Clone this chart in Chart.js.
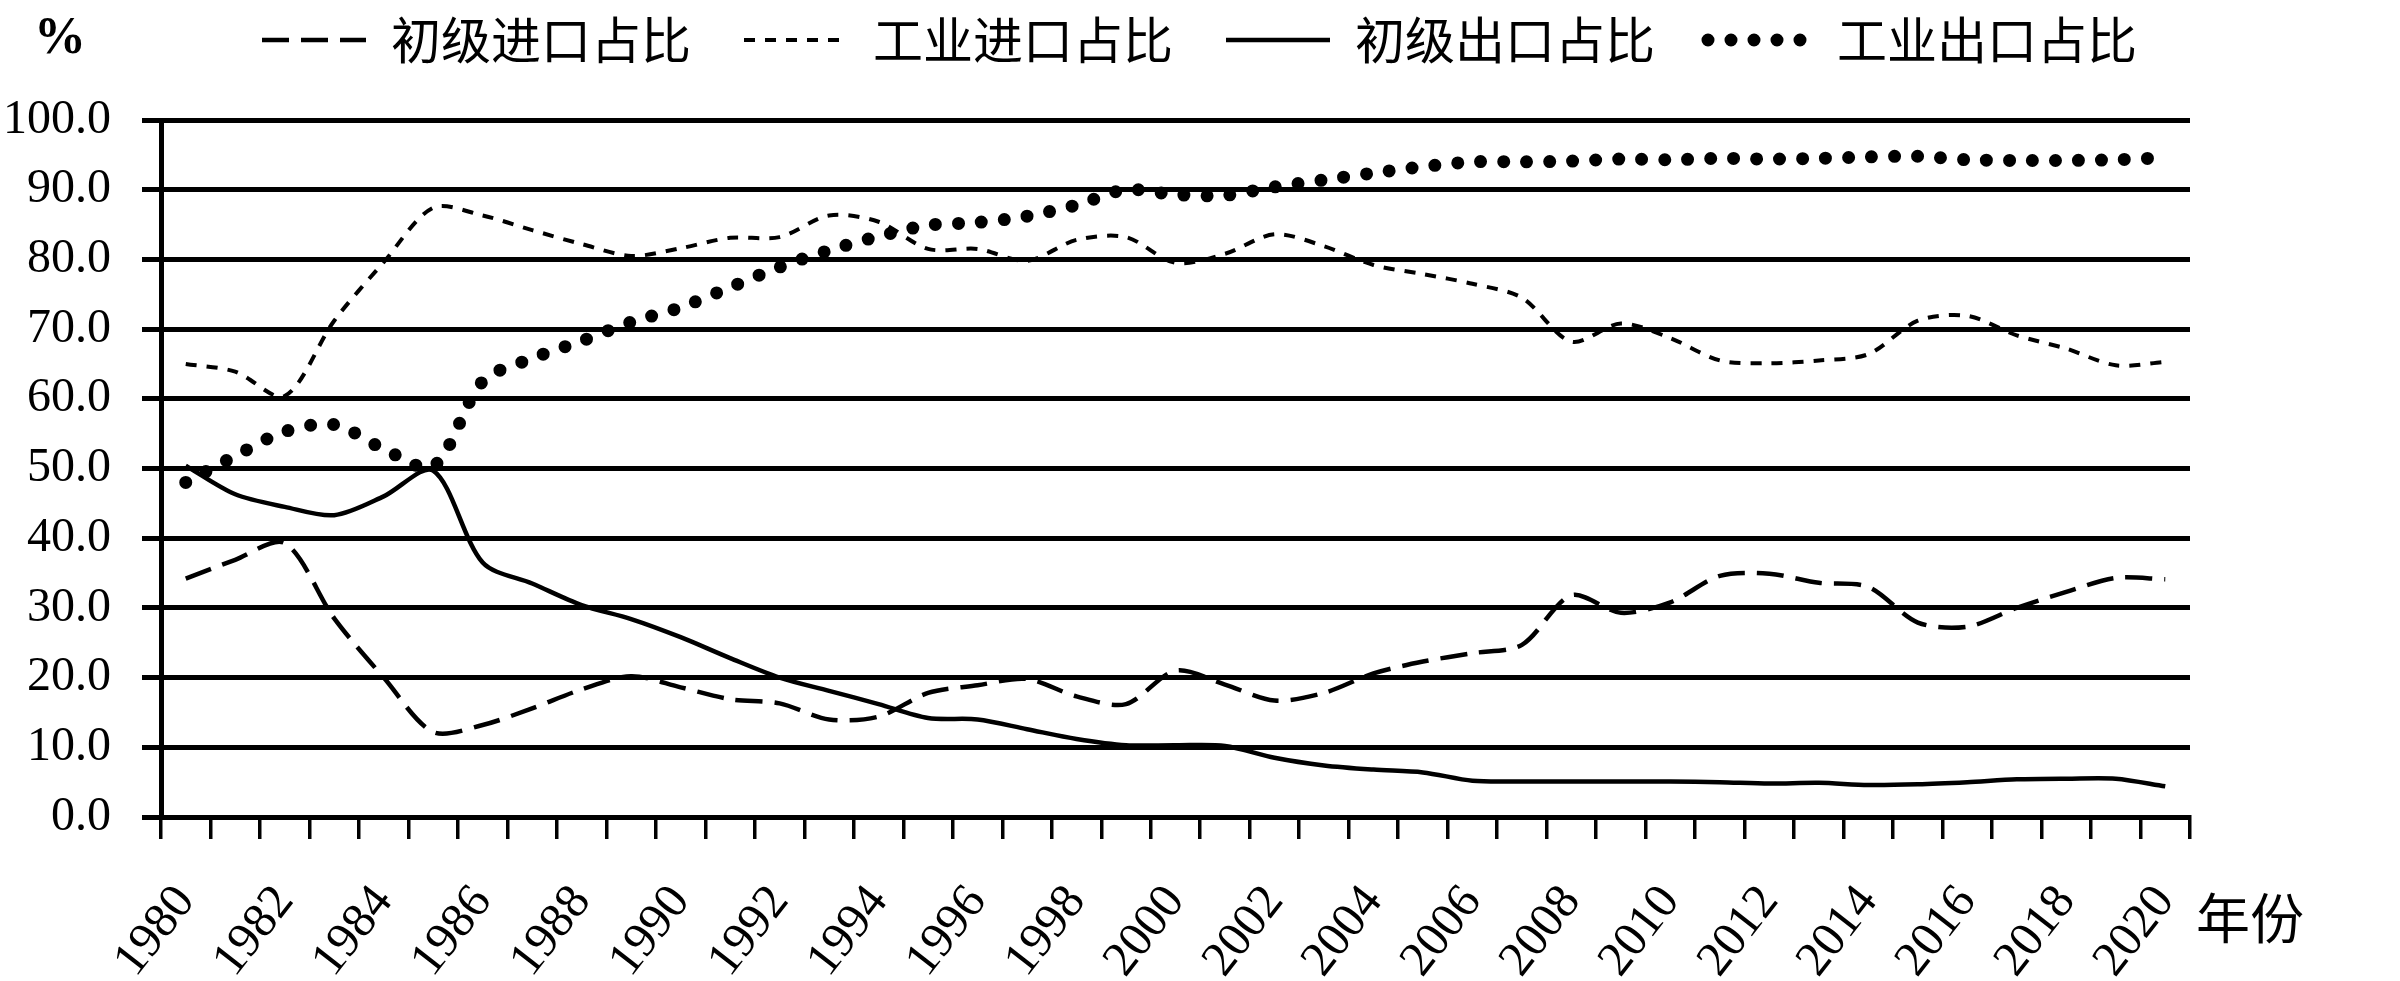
<!DOCTYPE html>
<html>
<head>
<meta charset="utf-8">
<script src="https://cdn.jsdelivr.net/npm/chart.js@4.4.0/dist/chart.umd.min.js"></script>
<style>
  html, body { margin: 0; padding: 0; background: #fff; }
  #wrap { width: 2400px; height: 981px; }
</style>
</head>
<body>
<div id="wrap"><canvas id="chart" width="2400" height="981"></canvas></div>
<script>
const years = ['1980','1981','1982','1983','1984','1985','1986','1987','1988','1989',
  '1990','1991','1992','1993','1994','1995','1996','1997','1998','1999',
  '2000','2001','2002','2003','2004','2005','2006','2007','2008','2009',
  '2010','2011','2012','2013','2014','2015','2016','2017','2018','2019','2020'];

// 初级进口占比
const primaryImport = [34.2, 36.9, 39.3, 28.5, 20.0, 12.2, 13.2, 15.6, 18.3, 20.2,
  18.6, 16.9, 16.3, 14.0, 14.4, 17.8, 18.9, 19.8, 17.3, 16.2,
  21.0, 19.0, 16.7, 17.8, 20.6, 22.3, 23.5, 24.7, 31.8, 29.3,
  30.8, 34.6, 34.9, 33.6, 33.0, 27.9, 27.3, 30.0, 32.3, 34.3, 34.1];

// 工业进口占比
const industrialImport = [65.0, 63.9, 60.4, 71.2, 79.6, 87.4, 86.3, 84.2, 82.2, 80.5,
  81.6, 83.1, 83.2, 86.3, 85.4, 81.5, 81.5, 79.8, 82.8, 83.2,
  79.5, 80.8, 83.6, 81.9, 79.2, 77.9, 76.5, 74.5, 68.2, 70.8,
  68.7, 65.5, 65.1, 65.5, 66.4, 71.2, 71.9, 69.1, 67.2, 64.8, 65.3];

// 初级出口占比
const primaryExport = [50.4, 46.3, 44.5, 43.3, 46.0, 49.7, 36.5, 33.5, 30.4, 28.4,
  25.8, 22.8, 20.0, 18.1, 16.2, 14.2, 14.0, 12.6, 11.2, 10.3,
  10.3, 10.2, 8.5, 7.4, 6.8, 6.4, 5.2, 5.1, 5.1, 5.1,
  5.1, 5.0, 4.8, 4.9, 4.6, 4.7, 5.0, 5.4, 5.5, 5.5, 4.4];

// 工业出口占比
const industrialExport = [48.0, 51.8, 55.3, 56.3, 52.8, 50.3, 62.5, 65.8, 68.3, 71.0,
  73.1, 76.0, 78.9, 81.3, 83.3, 84.9, 85.3, 86.2, 87.8, 90.0,
  89.3, 89.2, 90.4, 91.4, 92.4, 93.3, 94.0, 94.0, 94.1, 94.4,
  94.3, 94.5, 94.4, 94.5, 94.7, 94.8, 94.3, 94.2, 94.2, 94.3, 94.6];

const seriesNames = ['初级进口占比', '工业进口占比', '初级出口占比', '工业出口占比'];
const yUnit = '%';
const xUnit = '年份';

const serif = '"Liberation Serif", "DejaVu Serif", serif';
const cjk = '"Noto Sans CJK SC", sans-serif';

// "%" above the value axis and "年份" after the category axis
const axisUnits = {
  id: 'axisUnits',
  afterDraw(chart) {
    const ctx = chart.ctx;
    const area = chart.chartArea;
    ctx.save();
    ctx.fillStyle = '#000';
    ctx.textBaseline = 'middle';
    ctx.textAlign = 'left';
    ctx.font = 'bold 52px ' + serif;
    ctx.fillText(yUnit, 34, 40);
    ctx.font = '54px ' + cjk;
    ctx.fillText(xUnit, area.right + 6, 918);
    ctx.restore();
  }
};

function lineSet(label, data, width, dash, cap) {
  return {
    label,
    data,
    borderColor: '#000',
    backgroundColor: '#000',
    borderWidth: width,
    borderDash: dash,
    borderCapStyle: cap,
    pointRadius: 0,
    pointHoverRadius: 0,
    tension: 0.3,
    fill: false
  };
}

new Chart(document.getElementById('chart'), {
  type: 'line',
  data: {
    labels: years,
    datasets: [
      lineSet(seriesNames[0], primaryImport, 4.5, [27, 12], 'butt'),
      lineSet(seriesNames[1], industrialImport, 4, [11, 10], 'butt'),
      lineSet(seriesNames[2], primaryExport, 4.5, [], 'butt'),
      lineSet(seriesNames[3], industrialExport, 13, [0, 23], 'round')
    ]
  },
  options: {
    responsive: false,
    devicePixelRatio: 1,
    animation: false,
    layout: { padding: { top: -38, left: 3, right: 210, bottom: 0 } },
    plugins: {
      legend: {
        position: 'top',
        align: 'end',
        labels: {
          usePointStyle: true,
          pointStyleWidth: 104,
          padding: 53,
          color: '#000',
          font: { family: cjk, size: 50 },
          generateLabels(chart) {
            return chart.data.datasets.map((ds, i) => ({
              text: ds.label,
              fillStyle: 'rgba(0,0,0,0)',
              strokeStyle: ds.borderColor,
              fontColor: '#000',
              lineWidth: ds.borderWidth,
              lineDash: ds.borderDash,
              lineCap: ds.borderCapStyle,
              pointStyle: 'line',
              hidden: false,
              datasetIndex: i
            }));
          }
        }
      },
      // empty spacer between the legend row and the plot
      title: {
        display: true,
        text: '',
        weight: 1,
        font: { size: 1, lineHeight: 1 },
        padding: { top: 0, bottom: 44 }
      },
      tooltip: { enabled: false }
    },
    scales: {
      x: {
        offset: true,
        afterFit(scale) { scale.height = 164; },
        grid: {
          offset: true,
          drawOnChartArea: false,
          drawTicks: true,
          tickLength: 22,
          color: '#000',
          lineWidth: 3.5
        },
        border: { display: true, color: '#000', width: 5 },
        ticks: {
          autoSkip: false,
          maxRotation: 52,
          minRotation: 52,
          padding: 36,
          color: '#000',
          font: { family: serif, size: 49 },
          callback(value, index) {
            return index % 2 === 0 ? years[index] : '';
          }
        }
      },
      y: {
        min: 0,
        max: 100,
        afterFit(scale) { scale.width = 158; },
        grid: {
          color: '#000',
          lineWidth: 5,
          drawTicks: true,
          tickLength: 19
        },
        border: { display: true, color: '#000', width: 5 },
        ticks: {
          stepSize: 10,
          autoSkip: false,
          padding: 31,
          color: '#000',
          font: { family: serif, size: 48 },
          callback(value) { return Number(value).toFixed(1); }
        }
      }
    }
  },
  plugins: [axisUnits]
});
</script>
</body>
</html>
